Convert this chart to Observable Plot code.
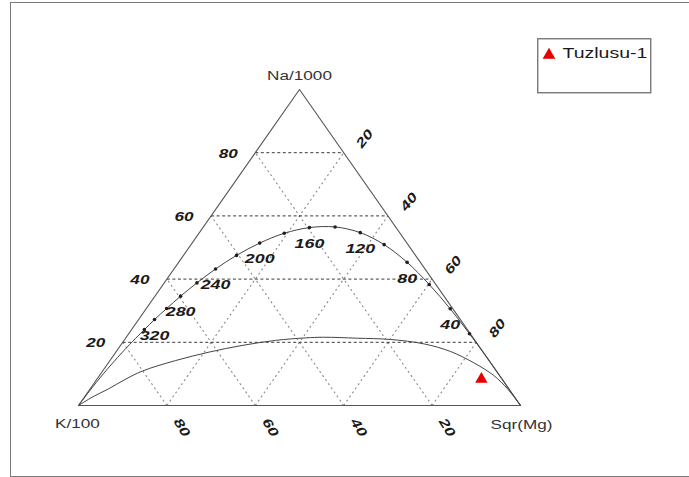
<!DOCTYPE html>
<html>
<head>
<meta charset="utf-8">
<script src="https://cdn.jsdelivr.net/npm/d3@7"></script>
<script src="https://cdn.jsdelivr.net/npm/@observablehq/plot@0.6"></script>
<style>
  body { margin: 0; background: #fff; overflow: hidden; }
  #wrap { position: relative; width: 689px; height: 477px; overflow: hidden; font-family: "Liberation Sans", Arial, sans-serif; }
  #frame { position: absolute; left: 10px; top: 2px; width: 720px; height: 475px; border: 1.5px solid #7a7a7a; border-right: none; box-sizing: border-box; }
  #chart { position: absolute; left: 0; top: 0; }
  #legend { position: absolute; left: 537px; top: 38px; }
</style>
</head>
<body>
<div id="wrap">
  <div id="frame"></div>
  <div id="chart"></div>
  <svg id="legend" width="115" height="56"></svg>
</div>
<script>
// ---- data (ternary percentages: Na/1000, K/100, Sqr(Mg)) ----
const vertexLabels = ["Na/1000", "K/100", "Sqr(Mg)"];
const tickValues = [20, 40, 60, 80];

// full-equilibrium curve, temperature points (°C) and their ternary position
const eqTemp = [340, 320, 300, 280, 260, 240, 220, 200, 180, 160, 140, 120, 100, 80, 60, 40, 20];
const eqNa   = [24.0, 27.2, 30.7, 34.6, 38.8, 43.2, 47.5, 51.4, 54.5, 56.3, 56.5, 54.7, 50.9, 45.3, 38.3, 30.6, 22.7];
const eqMg   = [2.9, 3.6, 4.6, 5.8, 7.4, 9.4, 12.0, 15.3, 19.3, 24.1, 29.8, 36.4, 43.7, 51.7, 60.2, 68.8, 77.1];
const eqLabelTemps = [320, 280, 240, 200, 160, 120, 80, 40];
// tails of the full-equilibrium curve toward the K and Mg corners
const hotTailNa  = [0, 4.5, 10.0, 16.9, 21.3];
const hotTailMg  = [0, 0.2, 0.6, 1.5, 2.3];
const coldTailNa = [15.6, 9.7, 0];
const coldTailMg = [84.4, 90.3, 100];

// immature-water (partial equilibration) boundary curve
const immNa = [0, 2.8, 5.3, 8.2, 10.9, 14.2, 16.9, 19.0, 20.6, 21.4, 21.6, 21.3, 20.9, 19.5, 17.1, 13.5, 9.5, 5.3, 0];
const immMg = [0, 1.9, 4.2, 6.4, 9.0, 14.8, 21.1, 27.5, 34.3, 40.7, 44.7, 52.4, 60.1, 68.4, 75.6, 82.7, 89.2, 94.4, 100];

// sample
const sampleNames = ["Tuzlusu-1"];
const sampleNa = [8.3];
const sampleK  = [4.7];
const sampleMg = [87.0];
const sampleColor = "#e60000";

// ---- ternary projection ----
const tern = (na, mg) => ({x: mg + na / 2, y: na});

const eqPts = eqTemp.map((t, i) => ({t, ...tern(eqNa[i], eqMg[i])}));
const upperCurve = [
  ...hotTailNa.map((n, i) => tern(n, hotTailMg[i])),
  ...eqPts,
  ...coldTailNa.map((n, i) => tern(n, coldTailMg[i]))
];
const lowerCurve = immNa.map((n, i) => tern(n, immMg[i]));
const samples = sampleNames.map((s, i) => ({s, ...tern(sampleNa[i], sampleMg[i]), k: sampleK[i]}));

const seg = (a, b) => ({x1: a.x, y1: a.y, x2: b.x, y2: b.y});
const naLines = tickValues.map(k => seg(tern(k, 0), tern(k, 100 - k)));
const diagLines = tickValues.flatMap(k => [
  seg(tern(0, 100 - k), tern(100 - k, 0)),   // constant K
  seg(tern(0, k), tern(100 - k, k))          // constant Mg
]);
const outline = [tern(0, 0), tern(100, 0), tern(0, 100), tern(0, 0)];
const naCorner = [{...tern(100, 0), s: vertexLabels[0]}];
const kCorner  = [{...tern(0, 0),   s: vertexLabels[1]}];
const mgCorner = [{...tern(0, 100), s: vertexLabels[2]}];

const labStyle = {fontWeight: "bold", fontStyle: "italic", fontSize: 13, fill: "#1a1a1a"};
const cornerStyle = {x: "x", y: "y", text: "s", fontSize: 13, fill: "#333"};

const plot = Plot.plot({
  width: 689,
  height: 477,
  marginLeft: 78,
  marginRight: 169,
  marginTop: 89,
  marginBottom: 72,
  x: {domain: [0, 100], axis: null},
  y: {domain: [0, 100], axis: null},
  style: {background: "transparent", fontFamily: "Liberation Sans, Arial, sans-serif", overflow: "visible"},
  marks: [
    Plot.link(diagLines, {x1: "x1", y1: "y1", x2: "x2", y2: "y2", stroke: "#8a8a8a", strokeWidth: 1.1, strokeDasharray: "2,3"}),
    Plot.link(naLines, {x1: "x1", y1: "y1", x2: "x2", y2: "y2", stroke: "#222", strokeWidth: 0.9, strokeDasharray: "3,2.5"}),
    Plot.line(outline, {x: "x", y: "y", stroke: "#555", strokeWidth: 1.1}),
    Plot.line(lowerCurve, {x: "x", y: "y", curve: "catmull-rom", stroke: "#444", strokeWidth: 1}),
    Plot.line(upperCurve, {x: "x", y: "y", curve: "catmull-rom", stroke: "#444", strokeWidth: 1}),
    Plot.dot(eqPts, {x: "x", y: "y", r: 1.8, fill: "#2a1a1a"}),
    Plot.text(eqPts.filter(d => eqLabelTemps.includes(d.t)), {x: "x", y: "y", text: d => String(d.t), dy: 16, ...labStyle, fontSize: 13.5}),
    // Na ticks (left edge)
    Plot.text(tickValues, {x: d => d / 2, y: d => d, text: d => String(d), dx: -27, dy: 1, ...labStyle}),
    // Mg ticks (right edge)
    Plot.text(tickValues, {x: d => d + (100 - d) / 2, y: d => 100 - d, text: d => String(d), dx: 21, dy: -14, rotate: -52, ...labStyle}),
    // K ticks (base)
    Plot.text(tickValues, {x: d => 100 - d, y: 0, text: d => String(d), dx: 15, dy: 22, rotate: 58, ...labStyle}),
    Plot.text(naCorner, {...cornerStyle, dy: -14}),
    Plot.text(kCorner,  {...cornerStyle, dx: -1, dy: 18}),
    Plot.text(mgCorner, {...cornerStyle, dx: 1, dy: 19}),
    Plot.dot(samples, {x: "x", y: "y", symbol: "triangle", r: 4.6, fill: sampleColor, stroke: null})
  ]
});

// widen glyphs to match the horizontally stretched reference
plot.querySelectorAll("text").forEach(t => {
  const tr = t.getAttribute("transform") || "";
  t.setAttribute("transform", tr + " scale(1.32,1)");
});
document.getElementById("chart").appendChild(plot);

// legend
const lg = d3.select("#legend");
lg.append("rect").attr("x", 0.75).attr("y", 0.75).attr("width", 113).attr("height", 54)
  .attr("fill", "#fff").attr("stroke", "#6e6e6e").attr("stroke-width", 1.3);
lg.append("path").attr("d", d3.symbol(d3.symbolTriangle, 70)())
  .attr("transform", "translate(12,17)").attr("fill", sampleColor);
lg.append("text").attr("transform", "translate(25.5,19.5) scale(1.3,1)")
  .attr("font-size", 15).attr("fill", "#1a1a1a")
  .attr("font-family", "Liberation Sans, Arial, sans-serif").text(sampleNames[0]);
</script>
</body>
</html>
